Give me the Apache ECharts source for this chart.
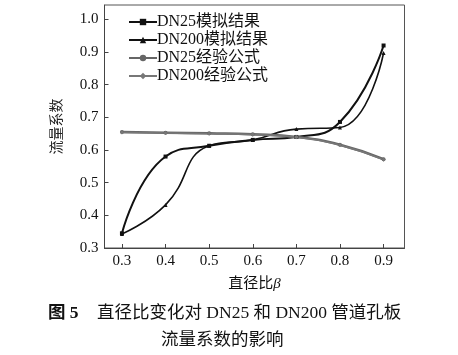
<!DOCTYPE html>
<html><head><meta charset="utf-8">
<script src="https://cdn.jsdelivr.net/npm/echarts@6/dist/echarts.min.js"></script>
<style>html,body{margin:0;padding:0;background:#fff}#c{width:458px;height:355px}</style>
</head><body><div id="c"></div>
<script>
var beta = [0.3, 0.4, 0.5, 0.6, 0.7, 0.8, 0.9];
var dn25Sim = [0.345, 0.580, 0.613, 0.631, 0.640, 0.686, 0.920];
var dn200Sim = [0.343, 0.432, 0.613, 0.631, 0.664, 0.669, 0.897];
var dn25Emp = [0.655, 0.653, 0.651, 0.648, 0.640, 0.616, 0.572];
var dn200Emp = [0.654, 0.652, 0.650, 0.647, 0.639, 0.615, 0.570];
var xTicks = [0.3, 0.4, 0.5, 0.6, 0.7, 0.8, 0.9];
var yTicks = [0.3, 0.4, 0.5, 0.6, 0.7, 0.8, 0.9, 1.0];
var names = ['DN25模拟结果', 'DN200模拟结果', 'DN25经验公式', 'DN200经验公式'];

var F = "'Liberation Serif','Noto Sans CJK SC',serif";
function pairs(ys){ return beta.map(function(x,i){return [x, ys[i]];}); }
var chart = echarts.init(document.getElementById('c'));
function mk(name, data, color, symbol, size, width){
  return {name:name, type:'line', data:pairs(data), smooth:0.5, symbol:symbol, symbolSize:size,
    lineStyle:{color:color, width:width}, itemStyle:{color:color}, z: 3};
}
chart.setOption({
  animation:false,
  textStyle:{fontFamily:F},
  grid:{left:104.5, top:5, right:53.5, bottom:107, show:true, borderColor:'#555', borderWidth:1, backgroundColor:'transparent'},
  legend:{left:123, top:9, orient:'vertical', itemWidth:28, itemHeight:8, itemGap:2,
    textStyle:{fontFamily:F, fontSize:16, lineHeight:16, color:'#111', padding:[0,0,0,-5]}, data:names},
  xAxis:{type:'value', min:0.26, max:0.948,
    axisLine:{lineStyle:{color:'#444'}},
    axisTick:{inside:true, length:4, lineStyle:{color:'#444'}, customValues:xTicks},
    axisLabel:{customValues:xTicks, fontFamily:F, fontSize:15, color:'#111', margin:6, formatter:function(v){return v.toFixed(1);}},
    splitLine:{show:false},
    name:'{a|直径比}{b|β}', nameLocation:'middle', nameGap:29,
    nameTextStyle:{rich:{a:{fontFamily:F, fontSize:15, color:'#111'}, b:{fontFamily:F, fontSize:15, fontStyle:'italic', color:'#111'}}}
  },
  yAxis:{type:'value', min:0.3, max:1.044,
    axisLine:{lineStyle:{color:'#444'}},
    axisTick:{inside:true, length:4, lineStyle:{color:'#444'}, customValues:yTicks},
    axisLabel:{customValues:yTicks, fontFamily:F, fontSize:15, color:'#111', margin:6, formatter:function(v){return v.toFixed(1);}},
    splitLine:{show:false},
    name:'流量系数', nameLocation:'middle', nameGap:40,
    nameTextStyle:{fontFamily:F, fontSize:14, color:'#222'}
  },
  series:[
    mk(names[0], dn25Sim, '#111', 'rect', 4, 2),
    mk(names[1], dn200Sim, '#111', 'triangle', 4, 1.6),
    mk(names[2], dn25Emp, '#666', 'circle', 4, 2.5),
    mk(names[3], dn200Emp, '#777', 'diamond', 4, 1.6)
  ],
  graphic:[
    {type:'text', left:48, top:305, style:{text:'图 5', font:"bold 17.5px "+F, fill:'#111'}},
    {type:'text', left:97, top:305, style:{text:'直径比变化对 DN25 和 DN200 管道孔板', font:"17.5px "+F, fill:'#111'}},
    {type:'text', left:161, top:332, style:{text:'流量系数的影响', font:"17.5px "+F, fill:'#111'}}
  ]
});
</script></body></html>
